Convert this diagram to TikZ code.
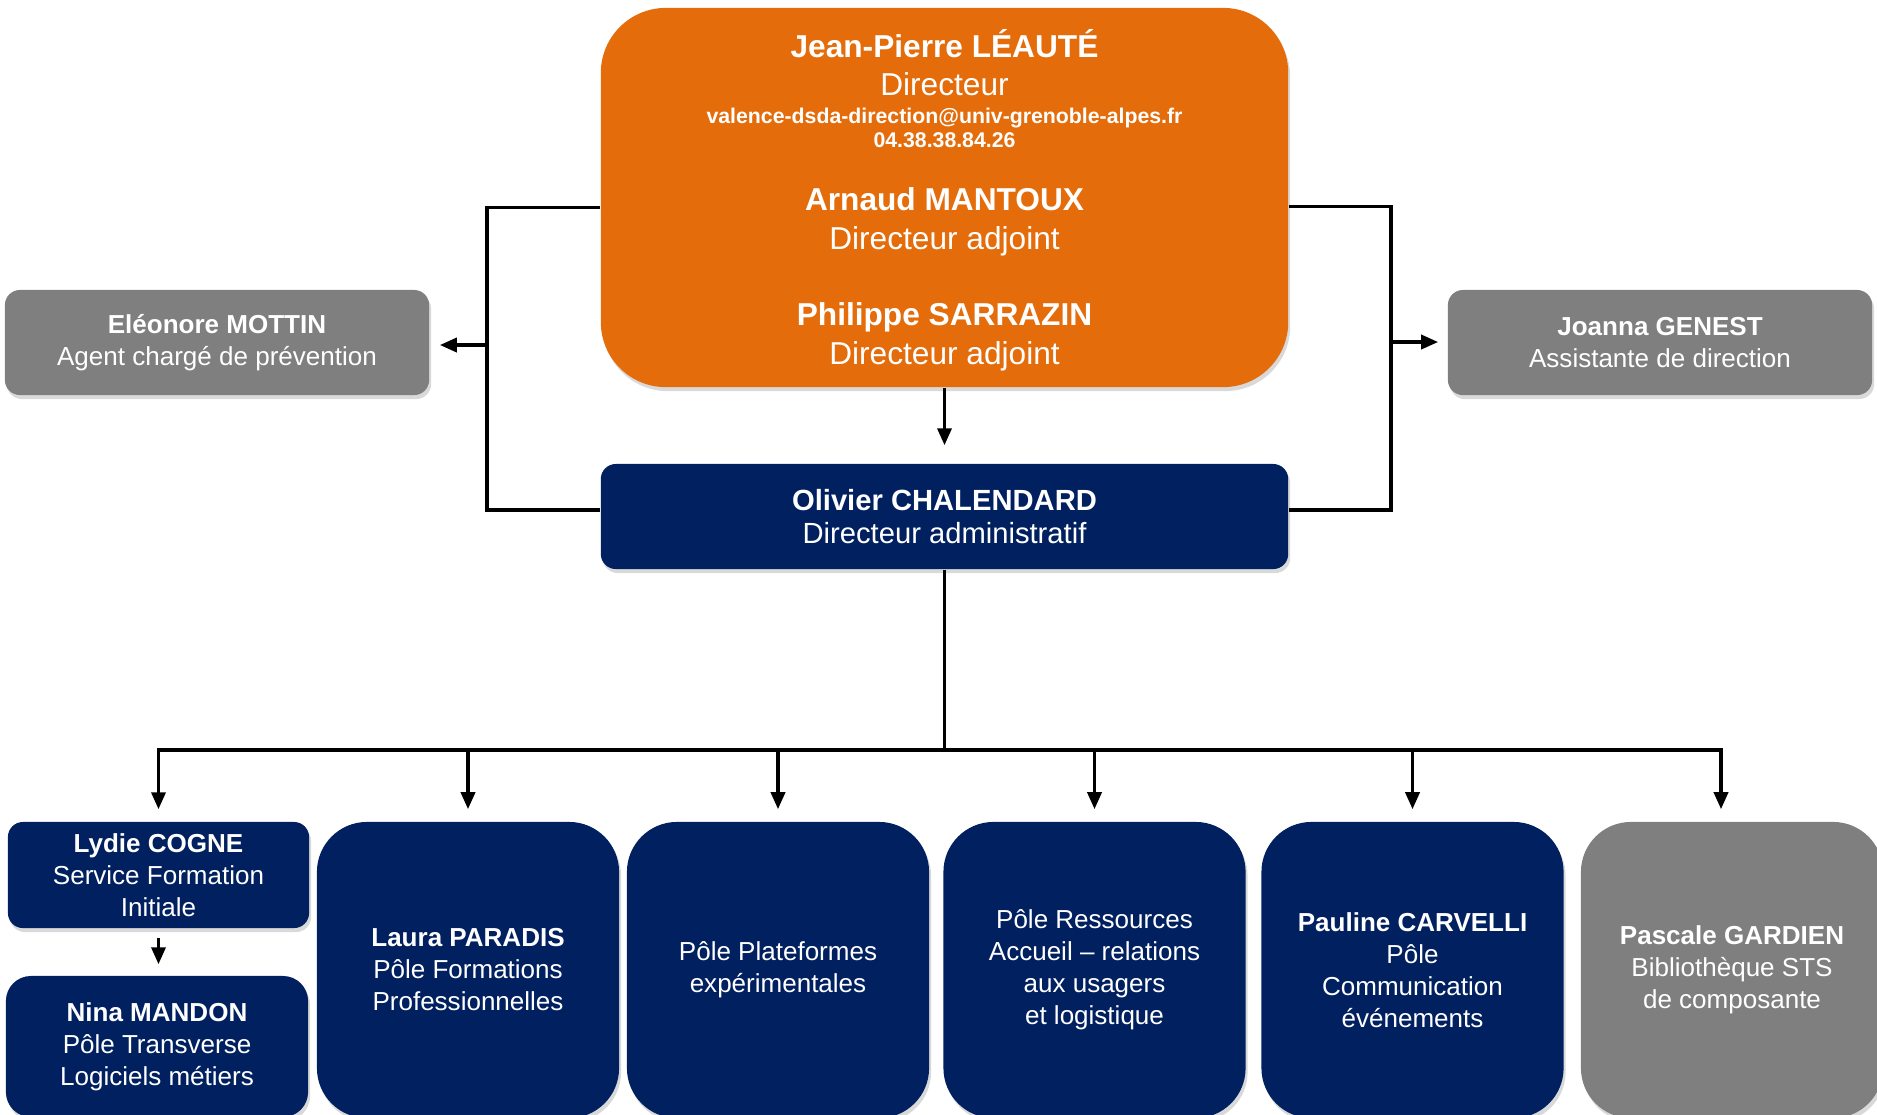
\documentclass[tikz,border=0pt]{standalone}
\usepackage{fontspec}
\setmainfont{Liberation Sans}
\usetikzlibrary{arrows.meta,shadows}

\definecolor{dsdaorange}{HTML}{E46C0A}
\definecolor{dsdanavy}{HTML}{002060}
\definecolor{dsdagray}{HTML}{7F7F7F}

\newcommand{\headfont}{\fontsize{9}{11}\selectfont}
\newcommand{\mailfont}{\fontsize{6.05}{6.8}\selectfont\bfseries}
\newcommand{\adminfont}{\fontsize{8.3}{9.6}\selectfont}
\newcommand{\boxfont}{\fontsize{7.4}{9.1}\selectfont}

\tikzset{
  box/.style={rounded corners=0.15cm, text=white, align=center, inner sep=0pt,
    drop shadow={shadow xshift=0.02cm, shadow yshift=-0.04cm, opacity=0.3}},
  sidebox/.style={box, fill=dsdagray, minimum width=4.24cm, minimum height=1.05cm, font=\boxfont},
  polebox/.style={box, fill=dsdanavy, rounded corners=0.5cm, minimum width=3.02cm, minimum height=2.96cm, font=\boxfont},
  headtext/.style={text=white, align=center, inner sep=0pt},
  link/.style={line width=1pt},
  arr/.style={link, -{Triangle[length=0.17cm,width=0.14cm]}},
}

\begin{document}
\begin{tikzpicture}[x=0.01cm, y=-0.01cm]
  \useasboundingbox (0,0) rectangle (1877,1114);
  %
  \node[box, fill=dsdaorange, rounded corners=0.65cm, minimum width=6.87cm, minimum height=3.79cm] (direction) at (944.5,197.5) {};   % top
  \node[headtext, font=\headfont] (leaute) at (944.5,62.5) {\textbf{Jean-Pierre LÉAUTÉ}\\Directeur};
  \node[headtext, font=\mailfont] (contact) at (944.5,128) {valence-dsda-direction@univ-grenoble-alpes.fr\\04.38.38.84.26};
  \node[headtext, font=\headfont] (mantoux) at (944.5,221.5) {\textbf{Arnaud MANTOUX}\\Directeur adjoint};
  \node[headtext, font=\headfont] (sarrazin) at (944.5,336.5) {\textbf{Philippe SARRAZIN}\\Directeur adjoint};
  %
  \node[box, fill=dsdanavy, minimum width=6.87cm, minimum height=1.05cm, font=\adminfont] (chalendard) at (944.5,516.5) {\textbf{Olivier CHALENDARD}\\Directeur administratif};
  \node[sidebox] (mottin) at (217,342.5) {\textbf{Eléonore MOTTIN}\\Agent chargé de prévention};   % left
  \node[sidebox] (genest) at (1660,342.5) {\textbf{Joanna GENEST}\\Assistante de direction};     % right
  %% poles
  \node[box, fill=dsdanavy, minimum width=3.01cm, minimum height=1.06cm, font=\boxfont] (cogne) at (158.5,875) {\textbf{Lydie COGNE}\\Service Formation\\Initiale};
  \node[box, fill=dsdanavy, rounded corners=0.25cm, minimum width=3.02cm, minimum height=1.41cm, font=\boxfont] (mandon) at (157,1046.5) {\textbf{Nina MANDON}\\Pôle Transverse\\Logiciels métiers};
  \node[polebox] (paradis) at (468,970) {\textbf{Laura PARADIS}\\Pôle Formations\\Professionnelles};
  \node[polebox] (plateformes) at (778,970) {Pôle Plateformes\\expérimentales};
  \node[polebox] (ressources) at (1094.5,970) {Pôle Ressources\\Accueil -- relations\\aux usagers\\et logistique};
  \node[polebox] (carvelli) at (1412.5,970) {\textbf{Pauline CARVELLI}\\Pôle\\Communication\\événements};
  \node[polebox, fill=dsdagray] (gardien) at (1732,970) {\textbf{Pascale GARDIEN}\\Bibliothèque STS\\de composante};
  %% links
  \coordinate (lbar) at (487,345);
  \coordinate (rbar) at (1391,342);
  \coordinate (bus) at (944.5,750);
  \draw[arr, shorten >=0.18cm] (direction.south) -- (chalendard.north);
  \draw[link] ([yshift=-0.1cm]direction.west) -| (lbar) |- ([yshift=0.065cm]chalendard.west);    % left bracket
  \draw[arr, shorten >=0.1cm] (lbar) -- (lbar -| mottin.east);
  \draw[link] ([yshift=-0.09cm]direction.east) -| (rbar) |- ([yshift=0.065cm]chalendard.east);   % right bracket
  \draw[arr, shorten >=0.09cm] (rbar) -- (rbar -| genest.west);
  %
  \draw[link] (chalendard.south) -- (bus);
  \draw[arr, shorten >=0.12cm] (bus) -| (cogne.north);
  \draw[arr, shorten >=0.12cm] (bus) -| (paradis.north);
  \draw[arr, shorten >=0.12cm] (bus) -| (plateformes.north);
  \draw[arr, shorten >=0.12cm] (bus) -| (ressources.north);
  \draw[arr, shorten >=0.12cm] (bus) -| (carvelli.north);
  \draw[arr, shorten >=0.12cm] (bus) -| ([xshift=-0.11cm]gardien.north);
  \draw[arr, shorten <=0.09cm, shorten >=0.11cm] (cogne.south) -- (cogne.south |- mandon.north);
  %
\end{tikzpicture}
\end{document}
